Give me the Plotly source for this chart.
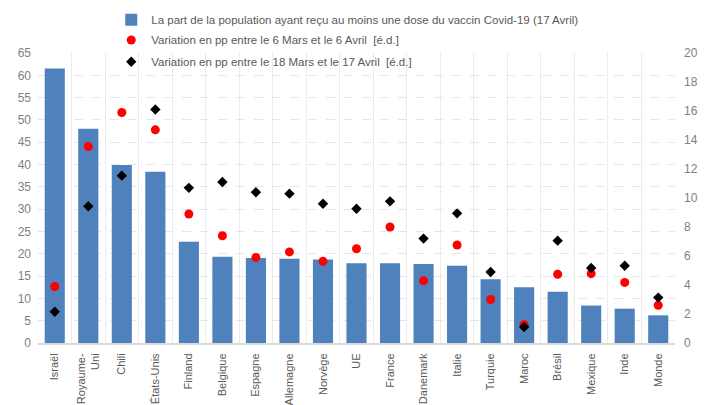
import plotly.graph_objects as go

categories = ["Israël", "Royaume-<br>Uni", "Chili", "États-Unis", "Finland", "Belgique", "Espagne",
              "Allemagne", "Norvège", "UE", "France", "Danemark", "Italie", "Turquie", "Maroc",
              "Brésil", "Mexique", "Inde", "Monde"]
part_vaccines = [61.5, 48.0, 39.9, 38.4, 22.7, 19.35, 19.05, 18.9, 18.7, 17.9, 17.9, 17.7, 17.3,
                 14.3, 12.5, 11.5, 8.4, 7.7, 6.2]
var_mars_avril = [3.9, 13.55, 15.9, 14.7, 8.9, 7.4, 5.9, 6.28, 5.63, 6.5, 8.0, 4.3, 6.76, 3.0,
                  1.26, 4.74, 4.78, 4.18, 2.6]
var_18mars_17avril = [2.16, 9.43, 11.54, 16.1, 10.7, 11.1, 10.4, 10.3, 9.6, 9.26, 9.77, 7.2, 8.94,
                      4.9, 1.1, 7.06, 5.17, 5.33, 3.13]

name_bar = "La part de la population ayant reçu au moins une dose du vaccin Covid-19 (17 Avril)"
name_red = "Variation en pp entre le 6 Mars et le 6 Avril  [é.d.]"
name_blk = "Variation en pp entre le 18 Mars et le 17 Avril  [é.d.]"

fig = go.Figure()
fig.add_trace(go.Bar(x=categories, y=part_vaccines, name=name_bar, legend="legend",
                     marker=dict(color="#4F81BD", line=dict(width=0))))
fig.add_trace(go.Scatter(x=categories, y=var_mars_avril, name=name_red, mode="markers", yaxis="y2",
                         legend="legend2",
                         marker=dict(color="#FF0000", size=9, symbol="circle")))
fig.add_trace(go.Scatter(x=categories, y=var_18mars_17avril, name=name_blk, mode="markers", yaxis="y2",
                         legend="legend3",
                         marker=dict(color="#000000", size=8, symbol="diamond")))

tickfont = dict(family="Liberation Sans, sans-serif", size=12, color="#7f7f7f")
legfont = dict(family="Liberation Sans, sans-serif", size=11.5, color="#595959")
leg_common = dict(x=0.115, xanchor="left", yanchor="middle", bgcolor="rgba(255,255,255,0)",
                  font=legfont, itemwidth=30, borderwidth=0)

# the page body adds an 8px offset; margins compensate so the plot area lands at 38..675 x 53..343
fig.update_layout(
    width=712, height=405,
    margin=dict(l=30, r=45, t=45, b=70, autoexpand=False),
    paper_bgcolor="white", plot_bgcolor="white",
    bargap=0.4,
    showlegend=True,
    legend=dict(y=1.115, **leg_common),
    legend2=dict(y=1.045, **leg_common),
    legend3=dict(y=0.97, **leg_common),
    xaxis=dict(type="category", range=[-0.5, len(categories) - 0.5], autorange=False,
               tickson="boundaries", showgrid=True, gridcolor="#ebebeb", gridwidth=1,
               tickangle=-90, ticks="", showline=True, linecolor="#d9d9d9", linewidth=2,
               automargin=False, ticklabelstandoff=4,
               tickfont=dict(family="Liberation Sans, sans-serif", size=11, color="#595959")),
    yaxis=dict(range=[0, 65], dtick=5, showgrid=True, gridcolor="#e6e6e6", griddash="dash",
               zeroline=False, ticks="", tickfont=tickfont, automargin=False, ticklabelstandoff=6),
    yaxis2=dict(range=[0, 20], dtick=2, overlaying="y", side="right", showgrid=False,
                zeroline=False, ticks="", tickfont=tickfont, automargin=False, ticklabelstandoff=8),
)

fig.write_html("out.html")
